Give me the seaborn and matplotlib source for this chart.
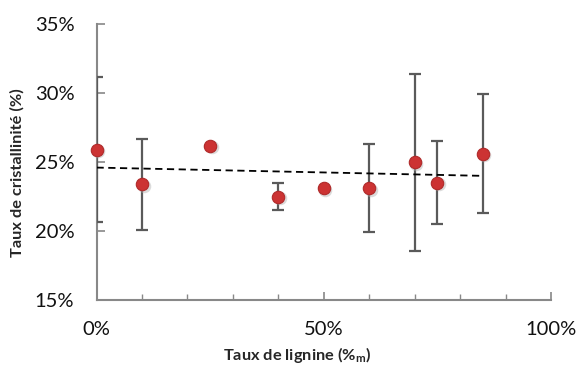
import numpy as np
import pandas as pd
import matplotlib
matplotlib.use("Agg")
import matplotlib.pyplot as plt
import seaborn as sns
from matplotlib.ticker import PercentFormatter, MultipleLocator

lignine = [0, 10, 25, 40, 50, 60, 70, 75, 85]
cristallinite = [25.9, 23.4, 26.2, 22.5, 23.1, 23.1, 25.0, 23.5, 25.6]
err_low = [20.65, 20.05, 26.2, 21.55, 23.1, 19.95, 18.55, 20.5, 21.3]
err_high = [31.2, 26.7, 26.2, 23.5, 23.1, 26.3, 31.4, 26.5, 29.9]
trend_x = [0, 85]
trend_y = [24.6, 24.0]

df = pd.DataFrame({"x": lignine, "y": cristallinite})

sns.set_theme(style="white")
plt.rcParams['font.family'] = ['Lato', 'DejaVu Sans']

fig = plt.figure(figsize=(5.8, 3.65), dpi=100)
ax = fig.add_axes([0.1664, 0.178, 0.7836, 0.756])

yerr = [np.array(cristallinite) - np.array(err_low), np.array(err_high) - np.array(cristallinite)]
ax.errorbar(lignine, cristallinite, yerr=yerr, fmt='none', ecolor='#5a5a5a',
            elinewidth=1.6, capsize=4.3, capthick=1.6, zorder=2)
ax.plot(trend_x, trend_y, color='black', linestyle=(0, (4, 2.5)), linewidth=1.3, zorder=3)
# shadow
sh = ax.scatter(np.array(lignine) + 0.35, np.array(cristallinite) - 0.12, s=95, color='#b0b0b0',
                alpha=0.45, linewidths=0, zorder=3)
sh.set_clip_on(False)
sns.scatterplot(data=df, x="x", y="y", ax=ax, s=80, color='#cc3333', edgecolor='#b02a2a',
                linewidth=0.8, zorder=4, legend=False, clip_on=False)

ax.set_xlim(0, 100)
ax.set_ylim(15, 35)
ax.xaxis.set_major_locator(MultipleLocator(50))
ax.xaxis.set_minor_locator(MultipleLocator(10))
ax.yaxis.set_major_locator(MultipleLocator(5))
ax.xaxis.set_major_formatter(PercentFormatter(decimals=0))
ax.yaxis.set_major_formatter(PercentFormatter(decimals=0))

for side in ['top', 'right']:
    ax.spines[side].set_visible(False)
for side in ['left', 'bottom']:
    ax.spines[side].set_color('#888888')
    ax.spines[side].set_linewidth(1.5)
    ax.spines[side].set_zorder(1)

ax.tick_params(axis='x', which='major', direction='in', length=6, width=1.2, color='#888888',
               labelsize=14.5, pad=15, labelcolor='#111111', bottom=True)
ax.tick_params(axis='x', which='minor', direction='in', length=4, width=1.0, color='#888888', bottom=True)
ax.tick_params(axis='y', which='major', direction='in', length=6, width=1.2, color='#888888',
               labelsize=14.5, pad=16, labelcolor='#111111', left=True)

ax.set_xlabel(r"Taux de lignine (%$_\mathregular{m}$)", fontsize=11.8, fontweight='bold')
ax.set_ylabel("Taux de cristallinité (%)", fontsize=11.8, fontweight='bold')
ax.xaxis.set_label_coords((297 - 96.5) / 454.5, -(355 - 300) / 276, transform=ax.transAxes)
ax.yaxis.set_label_coords(-(96.5 - 17) / 454.5, (300 - 173) / 276, transform=ax.transAxes)
ax.xaxis.label.set_va('center')
ax.yaxis.label.set_va('center')

fig.savefig("out.png", dpi=100)
